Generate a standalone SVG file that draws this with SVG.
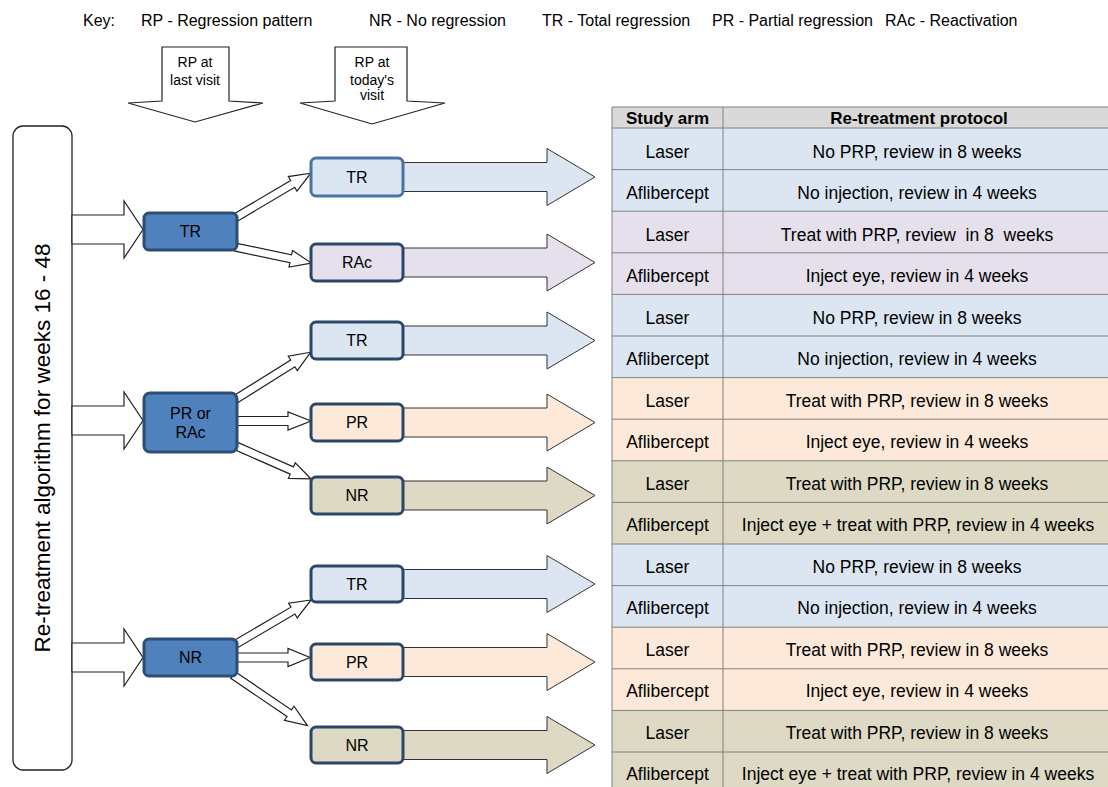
<svg xmlns="http://www.w3.org/2000/svg" width="1108" height="787" viewBox="0 0 1108 787">
<style>
text{font-family:"Liberation Sans",Arial,sans-serif;fill:#000;}
.key{font-size:16px;}
.small{font-size:14px;text-anchor:middle;}
.node{font-size:16px;text-anchor:middle;}
.cell{font-size:17.5px;text-anchor:middle;}
.hdr{font-size:17px;font-weight:bold;text-anchor:middle;}
.blk{fill:#fff;stroke:#222;stroke-width:1.2;}
.big{stroke:#333;stroke-width:1;}
.n1{fill:#4f81bd;stroke:#2c4d75;stroke-width:3;}
.n2{stroke:#2a4668;stroke-width:3;}
.blue{fill:#dce6f2;}
.lav{fill:#e5e0ec;}
.peach{fill:#fde9d9;}
.tan{fill:#ddd9c4;}
.grid{stroke:#808080;stroke-width:1;fill:none;}
</style>

<!-- Key -->
<g id="key">
<text class="key" x="83" y="26">Key:</text>
<text class="key" x="141" y="26">RP - Regression pattern</text>
<text class="key" x="369" y="26">NR - No regression</text>
<text class="key" x="542" y="26">TR - Total regression</text>
<text class="key" x="712" y="26">PR - Partial regression</text>
<text class="key" x="885" y="26">RAc - Reactivation</text>
</g>

<!-- Column header arrows -->
<g id="hdr-last">
<polygon class="blk" points="162,47 229,47 229,101 263,103 195,122 128,103 162,101"/>
<text class="small" x="195" y="67">RP at</text>
<text class="small" x="195" y="85">last visit</text>
</g>
<g id="hdr-today">
<polygon class="blk" points="335,47 407,47 407,101 445,103 372,124 300,103 335,101"/>
<text class="small" x="372" y="67">RP at</text>
<text class="small" x="372" y="85">today's</text>
<text class="small" x="372" y="100">visit</text>
</g>

<!-- Left tall box -->
<g id="algo">
<rect x="13" y="126" width="59" height="644" rx="10" fill="#fff" stroke="#222" stroke-width="1.3"/>
<text x="0" y="0" transform="translate(50,448) rotate(-90)" font-size="22.5" text-anchor="middle">Re-treatment algorithm for weeks 16 - 48</text>
</g>

<!-- Connectors -->
<g id="connectors">
<!-- entry arrows -->
<polygon class="blk" points="72,215 124,215 124,201 143,229.5 124,258 124,244 72,244"/>
<polygon class="blk" points="72,406 124,406 124,392 143,420.5 124,449 124,435 72,435"/>
<polygon class="blk" points="72,643 124,643 124,629 143,657.5 124,686 124,672 72,672"/>
<!-- branch arrows -->
<polygon class="blk" transform="translate(235,218) rotate(-30.6)" points="0,-4 67,-4 67,-8.5 88,0 67,8.5 67,4 0,4"/>
<polygon class="blk" transform="translate(235,247) rotate(11.9)" points="0,-4 57,-4 57,-8.5 78,0 57,8.5 57,4 0,4"/>
<polygon class="blk" transform="translate(236,399) rotate(-32.1)" points="0,-4 67,-4 67,-8.5 88,0 67,8.5 67,4 0,4"/>
<polygon class="blk" points="237,416.5 288,416.5 288,412 311,421 288,430 288,425.5 237,425.5"/>
<polygon class="blk" transform="translate(236,446) rotate(23.7)" points="0,-4 61,-4 61,-8.5 82,0 61,8.5 61,4 0,4"/>
<polygon class="blk" transform="translate(236,644) rotate(-30.4)" points="0,-4 66,-4 66,-8.5 87,0 66,8.5 66,4 0,4"/>
<polygon class="blk" points="237,653 288,653 288,648.5 310,657.5 288,666.5 288,662 237,662"/>
<polygon class="blk" transform="translate(233,675) rotate(34.2)" points="0,-4 68,-4 68,-8.5 90,0 68,8.5 68,4 0,4"/>
<!-- big arrows to table -->
<polygon class="big blue" points="400,162.5 547,162.5 547,148.5 595,177 547,205.5 547,191.5 400,191.5"/>
<polygon class="big lav" points="400,248 547,248 547,234 595,262.5 547,291 547,277 400,277"/>
<polygon class="big blue" points="400,326 547,326 547,312 595,340.5 547,369 547,355 400,355"/>
<polygon class="big peach" points="400,408 547,408 547,394 595,422.5 547,451 547,437 400,437"/>
<polygon class="big tan" points="400,481 547,481 547,467 595,495.5 547,524 547,510 400,510"/>
<polygon class="big blue" points="400,569.5 547,569.5 547,555.5 595,584 547,612.5 547,598.5 400,598.5"/>
<polygon class="big peach" points="400,647.5 547,647.5 547,633.5 595,662 547,690.5 547,676.5 400,676.5"/>
<polygon class="big tan" points="400,730.5 547,730.5 547,716.5 595,745 547,773.5 547,759.5 400,759.5"/>
</g>

<!-- First level nodes -->
<g id="last-TR"><rect class="n1" x="144" y="213" width="93" height="37" rx="5"/><text class="node" x="190.5" y="237">TR</text></g>
<g id="last-PR"><rect class="n1" x="144" y="393" width="93" height="59" rx="6"/><text class="node" x="190.5" y="419">PR or</text><text class="node" x="190.5" y="438">RAc</text></g>
<g id="last-NR"><rect class="n1" x="144" y="639" width="93" height="37" rx="5"/><text class="node" x="190.5" y="663">NR</text></g>

<!-- Second level nodes -->
<g id="g1-TR"><rect class="n2 blue" x="311" y="158" width="92" height="38" rx="5" style="stroke:#4a73a5"/><text class="node" x="357" y="183">TR</text></g>
<g id="g1-RAc"><rect class="n2 lav" x="311" y="244" width="92" height="37" rx="5"/><text class="node" x="357" y="268">RAc</text></g>
<g id="g2-TR"><rect class="n2 blue" x="311" y="322" width="92" height="37" rx="5"/><text class="node" x="357" y="346">TR</text></g>
<g id="g2-PR"><rect class="n2 peach" x="311" y="404" width="92" height="37" rx="5"/><text class="node" x="357" y="428">PR</text></g>
<g id="g2-NR"><rect class="n2 tan" x="311" y="477" width="92" height="37" rx="5"/><text class="node" x="357" y="501">NR</text></g>
<g id="g3-TR"><rect class="n2 blue" x="311" y="566" width="92" height="36" rx="5"/><text class="node" x="357" y="590">TR</text></g>
<g id="g3-PR"><rect class="n2 peach" x="311" y="644" width="92" height="36" rx="5"/><text class="node" x="357" y="668">PR</text></g>
<g id="g3-NR"><rect class="n2 tan" x="311" y="727" width="92" height="36" rx="5"/><text class="node" x="357" y="751">NR</text></g>

<!-- Table -->
<g id="table">
<rect x="612" y="107" width="500" height="21" fill="#d9d9d9"/>
<rect class="blue" x="612" y="128" width="500" height="83.2"/>
<rect class="lav" x="612" y="211.2" width="500" height="83.2"/>
<rect class="blue" x="612" y="294.4" width="500" height="83.2"/>
<rect class="peach" x="612" y="377.6" width="500" height="83.2"/>
<rect class="tan" x="612" y="460.8" width="500" height="83.2"/>
<rect class="blue" x="612" y="544" width="500" height="83.2"/>
<rect class="peach" x="612" y="627.2" width="500" height="83.2"/>
<rect class="tan" x="612" y="710.4" width="500" height="83.2"/>
<path class="grid" d="M612,107H1112M612,128H1112M612,169.6H1112M612,211.2H1112M612,252.8H1112M612,294.4H1112M612,336H1112M612,377.6H1112M612,419.2H1112M612,460.8H1112M612,502.4H1112M612,544H1112M612,585.6H1112M612,627.2H1112M612,668.8H1112M612,710.4H1112M612,752H1112M612,107V794M723,107V794"/>
<text class="hdr" x="667.5" y="123.5">Study arm</text>
<text class="hdr" x="919" y="123.5">Re-treatment protocol</text>

<text class="cell" x="667.5" y="158">Laser</text><text class="cell" x="917" y="158">No PRP, review in 8 weeks</text>
<text class="cell" x="667.5" y="199">Aflibercept</text><text class="cell" x="917" y="199">No injection, review in 4 weeks</text>
<text class="cell" x="667.5" y="241">Laser</text><text class="cell" x="917" y="241" style="white-space:pre">Treat with PRP, review  in 8  weeks</text>
<text class="cell" x="667.5" y="282">Aflibercept</text><text class="cell" x="917" y="282">Inject eye, review in 4 weeks</text>
<text class="cell" x="667.5" y="324">Laser</text><text class="cell" x="917" y="324">No PRP, review in 8 weeks</text>
<text class="cell" x="667.5" y="365">Aflibercept</text><text class="cell" x="917" y="365">No injection, review in 4 weeks</text>
<text class="cell" x="667.5" y="407">Laser</text><text class="cell" x="917" y="407">Treat with PRP, review in 8 weeks</text>
<text class="cell" x="667.5" y="448">Aflibercept</text><text class="cell" x="917" y="448">Inject eye, review in 4 weeks</text>
<text class="cell" x="667.5" y="490">Laser</text><text class="cell" x="917" y="490">Treat with PRP, review in 8 weeks</text>
<text class="cell" x="667.5" y="531">Aflibercept</text><text class="cell" x="918" y="531">Inject eye + treat with PRP, review in 4 weeks</text>
<text class="cell" x="667.5" y="573">Laser</text><text class="cell" x="917" y="573">No PRP, review in 8 weeks</text>
<text class="cell" x="667.5" y="614">Aflibercept</text><text class="cell" x="917" y="614">No injection, review in 4 weeks</text>
<text class="cell" x="667.5" y="656">Laser</text><text class="cell" x="917" y="656">Treat with PRP, review in 8 weeks</text>
<text class="cell" x="667.5" y="697">Aflibercept</text><text class="cell" x="917" y="697">Inject eye, review in 4 weeks</text>
<text class="cell" x="667.5" y="739">Laser</text><text class="cell" x="917" y="739">Treat with PRP, review in 8 weeks</text>
<text class="cell" x="667.5" y="780">Aflibercept</text><text class="cell" x="918" y="780">Inject eye + treat with PRP, review in 4 weeks</text>
</g>
</svg>
